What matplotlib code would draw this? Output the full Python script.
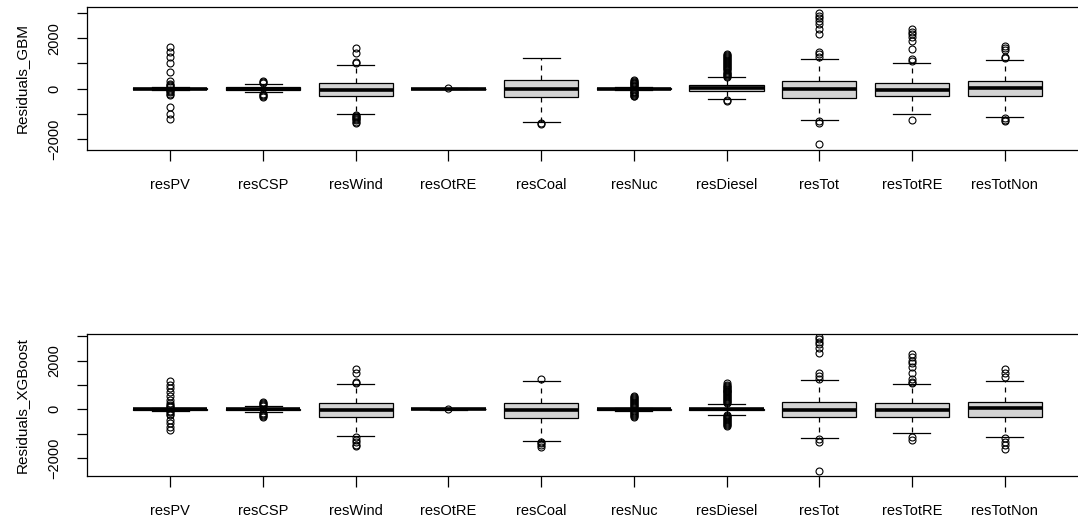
import matplotlib.pyplot as plt

plt.rcParams['font.family'] = ['Liberation Sans', 'DejaVu Sans']

names = ['resPV', 'resCSP', 'resWind', 'resOtRE', 'resCoal',
         'resNuc', 'resDiesel', 'resTot', 'resTotRE', 'resTotNon']

# GBM residuals: five-number summaries and outliers per variable
gbm_whislo = [-60, -150, -993, -10, -1300, -60, -405, -1255, -1010, -1111]
gbm_q1 = [-15, -40, -288, -5, -340, -20, -105, -353, -300, -288]
gbm_med = [0, 0, -52, 0, 0, 0, 13, -26, -51, 26]
gbm_q3 = [15, 60, 222, 5, 340, 20, 130, 288, 237, 288]
gbm_whishi = [60, 200, 954, 10, 1200, 60, 457, 1190, 1027, 1122]
gbm_out = [
    [1635, 1461, 1264, 1027, 660, 292, 200, 150, 110, 70, -70, -110, -150,
     -200, -249, -735, -1000, -1185],
    [290, 260, 230, -200, -250, -300, -340],
    [1620, 1410, 1060, 1010, -1020, -1060, -1100, -1150, -1200, -1250,
     -1300, -1340],
    [25],
    [-1370, -1390],
    [330, 300, 270, 240, 210, 180, 150, 120, 90, -90, -120, -150, -180,
     -210, -240, -270, -300],
    [480, 520, 560, 600, 640, 680, 720, 760, 800, 840, 880, 920, 960, 1000,
     1040, 1080, 1120, 1160, 1200, 1250, 1300, 1350, 1390, -450, -470],
    [2980, 2890, 2800, 2690, 2560, 2370, 2170, 1450, 1360, 1250, -1295,
     -1360, -2183],
    [2346, 2252, 2149, 2030, 1896, 1556, 1185, 1094, -1236],
    [1686, 1600, 1528, 1264, 1230, -1160, -1230, -1290],
]

# XGBoost residuals
xgb_whislo = [-60, -100, -1095, -10, -1290, -60, -219, -1190, -984, -1120]
xgb_q1 = [-15, -30, -300, -5, -370, -20, -30, -328, -300, -300]
xgb_med = [0, 0, -45, 0, -30, 0, 0, -27, -27, 41]
xgb_q3 = [15, 30, 245, 5, 270, 20, 30, 287, 246, 314]
xgb_whishi = [60, 120, 1050, 10, 1150, 60, 205, 1190, 1025, 1162]
xgb_out = [
    [1160, 990, 860, 720, 545, 380, 250, 180, 130, 90, -90, -130, -180,
     -250, -440, -580, -710, -850],
    [310, 270, 230, 190, 150, -150, -190, -230, -270, -330],
    [1640, 1475, 1130, 1065, -1150, -1250, -1350, -1450, -1520],
    [30],
    [1230, -1340, -1400, -1480, -1560],
    [530, 490, 450, 410, 370, 330, 290, 250, 210, 170, 130, 90, -90, -130,
     -170, -210, -250, -290, -315],
    [250, 290, 330, 370, 410, 450, 490, 530, 570, 610, 650, 690, 730, 770,
     810, 850, 890, 930, 970, 1010, 1060, -250, -290, -330, -370, -410,
     -450, -490, -530, -570, -610, -650, -683],
    [2953, 2870, 2775, 2680, 2500, 2296, 1476, 1367, 1230, -1230, -1326,
     -2529],
    [2269, 2132, 1996, 1886, 1750, 1476, 1230, 1135, 1066, -1120, -1258],
    [1640, 1476, 1312, -1190, -1326, -1463, -1640],
]

yticks = [-2000, -1000, 0, 1000, 2000, 3000]
ytick_labels = ['\u22122000', '', '0', '', '2000', '']


def draw_panel(ax, whislo, q1, med, q3, whishi, out, ylim):
    stats = []
    for i in range(len(names)):
        stats.append(dict(label=names[i], whislo=whislo[i], q1=q1[i],
                          med=med[i], q3=q3[i], whishi=whishi[i],
                          fliers=out[i]))
    ax.bxp(stats, positions=range(1, len(names) + 1), widths=0.8,
           capwidths=0.4, patch_artist=True, manage_ticks=False,
           boxprops=dict(facecolor='#d3d3d3', edgecolor='black', linewidth=0.9),
           medianprops=dict(color='black', linewidth=2.6, solid_capstyle='butt'),
           whiskerprops=dict(color='black', linewidth=0.9, linestyle=(0, (4, 4))),
           capprops=dict(color='black', linewidth=0.9),
           flierprops=dict(marker='o', markerfacecolor='none',
                           markeredgecolor='black', markersize=5,
                           markeredgewidth=0.8))
    ax.set_xlim(0.1, 10.9)
    ax.set_ylim(*ylim)
    ax.set_xticks(range(1, len(names) + 1))
    ax.set_xticklabels(names)
    ax.set_yticks(yticks)
    ax.set_yticklabels(ytick_labels)
    plt.setp(ax.get_yticklabels(), rotation=90, va='center')
    ax.tick_params(axis='x', length=8, width=0.9, pad=12, labelsize=10.5)
    ax.tick_params(axis='y', length=7.5, width=0.9, pad=11, labelsize=10.5)
    for s in ax.spines.values():
        s.set_linewidth(0.9)
    # the frame runs on past the right edge of the figure
    ax.spines['right'].set_visible(False)


fig = plt.figure(figsize=(10.78, 5.16), dpi=100)
ax1 = fig.add_axes([0.0807, 0.7093, 0.9286, 0.2771])
ax2 = fig.add_axes([0.0807, 0.0775, 0.9286, 0.2752])

draw_panel(ax1, gbm_whislo, gbm_q1, gbm_med, gbm_q3, gbm_whishi, gbm_out,
           (-2423, 3229))
draw_panel(ax2, xgb_whislo, xgb_q1, xgb_med, xgb_q3, xgb_whishi, xgb_out,
           (-2734, 3086))

fig.text(22 / 1078, 0.848, 'Residuals_GBM', rotation=90, ha='center',
         va='center', fontsize=11)
fig.text(22 / 1078, 0.215, 'Residuals_XGBoost', rotation=90, ha='center',
         va='center', fontsize=11)

fig.savefig('out.png', dpi=100)
